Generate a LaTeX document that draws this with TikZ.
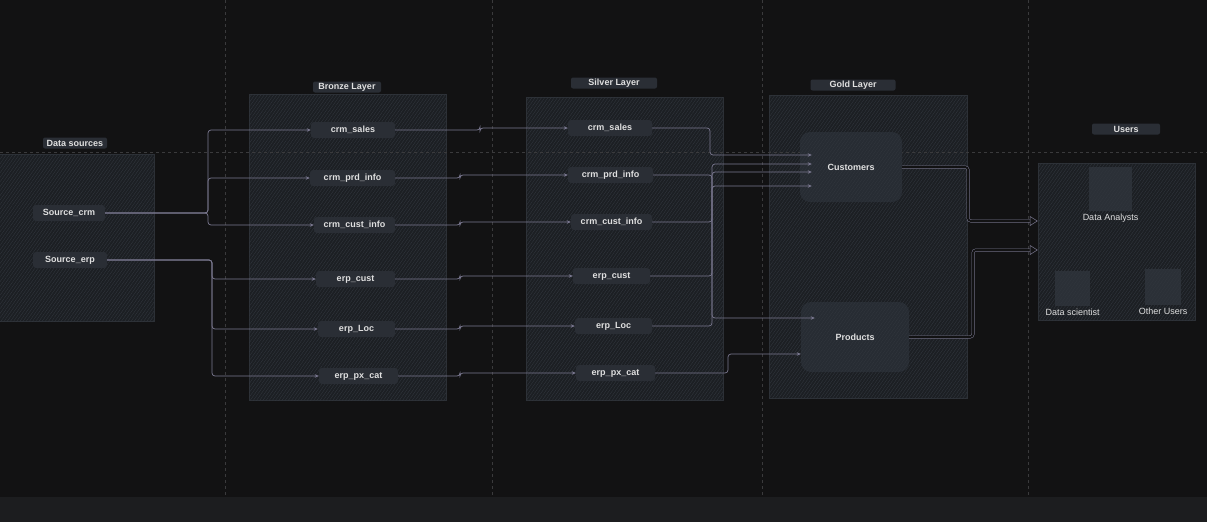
\documentclass[tikz,border=0pt]{standalone}
\usepackage{fontspec}
\setmainfont{Liberation Sans}
\usetikzlibrary{arrows.meta,patterns.meta,positioning}

\definecolor{bg}{HTML}{121213}
\definecolor{strip}{HTML}{1C1D1F}
\definecolor{contbg}{HTML}{1C1F23}
\definecolor{contln}{HTML}{2C3036}
\definecolor{hatch}{HTML}{31363D}
\definecolor{nodebg}{HTML}{2A2E35}
\definecolor{goldbg}{HTML}{272C33}
\definecolor{icobg}{HTML}{2B3037}
\definecolor{txt}{HTML}{E0E0E0}
\definecolor{wirec}{HTML}{7A7890}
\definecolor{gridc}{HTML}{3A3A3C}

\tikzset{
    hatched/.style={postaction={pattern={Lines[angle=55,distance=2.6pt,line width=.4pt]},pattern color=hatch}},
    layer/.style={draw=contln,line width=.5pt,fill=contbg,hatched,inner sep=0pt},
    tbl/.style={fill=nodebg,rounded corners=3pt,text=txt,font=\fontsize{9}{10}\selectfont\bfseries,minimum height=16pt,inner sep=1pt},
    ttl/.style={fill=nodebg,rounded corners=2pt,text=txt,font=\fontsize{9}{10}\selectfont\bfseries,minimum height=11pt,inner sep=1pt},
    gld/.style={fill=goldbg,rounded corners=10pt,text=txt,font=\fontsize{9}{10}\selectfont\bfseries,minimum height=70pt,hatched},
    ico/.style={fill=icobg,inner sep=0pt,hatched},
    usr/.style={text=txt,font=\fontsize{9}{10}\selectfont,inner sep=1pt},
    wire/.style={draw=wirec,line width=.7pt,rounded corners=3pt,-{Stealth[length=4pt,width=3.5pt]}},
    pipe/.style={draw=wirec,double=bg,double distance=2pt,line width=.5pt,rounded corners=3pt,-{Triangle[open,length=8pt,width=10pt]}},
    gridln/.style={draw=gridc,line width=.5pt,dash pattern=on 3pt off 3pt}
}

\begin{document}
\begin{tikzpicture}[x=1pt,y=-1pt]
    \useasboundingbox (0,0) rectangle (1207,522);
    \fill[bg] (0,0) rectangle (1207,522);
    \fill[strip] (0,497) rectangle (1207,522);

    % layers
    \node[layer,minimum width=156pt,minimum height=167pt] (lsrc) at (76,237.5) {};
    \node[layer,minimum width=197pt,minimum height=306pt] (lbronze) at (347.5,247) {};
    \node[layer,minimum width=197pt,minimum height=303pt] (lsilver) at (624.5,248.5) {};
    \node[layer,minimum width=198pt,minimum height=303pt] (lgold) at (868,246.5) {};
    \node[layer,minimum width=157pt,minimum height=157pt] (lusers) at (1116.5,241.5) {};

    \foreach \gx in {225,492,762,1028}
        \draw[gridln] (\gx,0) -- (\gx,497);
    \draw[gridln] (0,152) -- (1207,152);

    % titles
    \node[ttl,minimum width=64pt] (tsrc) at (75,143) {Data sources};
    \node[ttl,minimum width=68pt] (tbronze) at (347,87) {Bronze Layer};
    \node[ttl,minimum width=86pt] (tsilver) at (614,83) {Silver Layer};
    \node[ttl,minimum width=85pt] (tgold) at (853,85) {Gold Layer};
    \node[ttl,minimum width=68pt] (tusers) at (1126,129) {Users};

    % sources
    \node[tbl,minimum width=72pt] (srccrm) at (69,213) {Source\_crm};
    \node[tbl,minimum width=74pt] (srcerp) at (70,260) {Source\_erp};

    % bronze
    \path
        (353,130)   node[tbl,minimum width=84pt] (bsales){crm\_sales}
        (352.5,178) node[tbl,minimum width=85pt] (bprd){crm\_prd\_info}
        (354.5,225) node[tbl,minimum width=81pt] (bcust){crm\_cust\_info}
        (355.5,279) node[tbl,minimum width=79pt] (becust){erp\_cust}
        (356.5,329) node[tbl,minimum width=77pt] (bloc){erp\_Loc}
        (358.5,376) node[tbl,minimum width=79pt] (bpx){erp\_px\_cat}
        ;

    % silver
    \path
        (610,128)   node[tbl,minimum width=84pt] (ssales){crm\_sales}
        (610.5,175) node[tbl,minimum width=85pt] (sprd){crm\_prd\_info}
        (611.5,222) node[tbl,minimum width=81pt] (scust){crm\_cust\_info}
        (611.5,276) node[tbl,minimum width=77pt] (secust){erp\_cust}
        (613.5,326) node[tbl,minimum width=77pt] (sloc){erp\_Loc}
        (615.5,373) node[tbl,minimum width=79pt] (spx){erp\_px\_cat}
        ;

    % gold
    \node[gld,minimum width=102pt] (cust) at (851,167) {Customers};
    \node[gld,minimum width=108pt] (prod) at (855,337) {Products};

    % users
    \node[ico,minimum width=43pt,minimum height=44pt] (ana) at (1110.5,189) {};
    \node[usr,below=2pt of ana] (anat) {Data Analysts};
    \node[ico,minimum size=35pt] (sci) at (1072.5,288) {};
    \node[usr,below=2pt of sci] (scit) {Data scientist};
    \node[ico,minimum size=36pt] (oth) at (1163,286.5) {};
    \node[usr,below=2pt of oth] (otht) {Other Users};

    % bus lines
    \coordinate (bxa) at (208,0);
    \coordinate (bxb) at (212,0);
    \coordinate (jxa) at (480,0);
    \coordinate (jxb) at (460,0);
    \coordinate (gxa) at (710,0);
    \coordinate (gxb) at (712,0);
    \coordinate (gxc) at (728,0);
    \coordinate (uxa) at (968,0);
    \coordinate (uxb) at (973,0);
    \coordinate (c1) at ([shift={(12pt,12pt)}]cust.west);
    \coordinate (c2) at ([shift={(12pt,3pt)}]cust.west);
    \coordinate (c3) at ([shift={(12pt,-5pt)}]cust.west);
    \coordinate (c4) at ([shift={(12pt,-19pt)}]cust.west);
    \coordinate (p1) at ([shift={(14pt,19pt)}]prod.west);
    \coordinate (p2) at ([yshift=-17pt]prod.west);
    \coordinate (u1) at ([yshift=20.5pt]lusers.west);
    \coordinate (u2) at ([yshift=-8.5pt]lusers.west);

    % sources to bronze
    \draw[wire] (srccrm.east) -| (bxa |- bsales) -- (bsales.west);
    \draw[wire] (srccrm.east) -| (bxa |- bprd) -- (bprd.west);
    \draw[wire] (srccrm.east) -| (bxa |- bcust) -- (bcust.west);
    \draw[wire] (srcerp.east) -| (bxb |- becust) -- (becust.west);
    \draw[wire] (srcerp.east) -| (bxb |- bloc) -- (bloc.west);
    \draw[wire] (srcerp.east) -| (bxb |- bpx) -- (bpx.west);

    % bronze to silver
    \draw[wire] (bsales.east) -| (jxa |- ssales) -- (ssales.west);
    \draw[wire] (bprd.east) -| (jxb |- sprd) -- (sprd.west);
    \draw[wire] (bcust.east) -| (jxb |- scust) -- (scust.west);
    \draw[wire] (becust.east) -| (jxb |- secust) -- (secust.west);
    \draw[wire] (bloc.east) -| (jxb |- sloc) -- (sloc.west);
    \draw[wire] (bpx.east) -| (jxb |- spx) -- (spx.west);

    % silver to gold
    \draw[wire] (ssales.east) -| (gxa |- c1) -- (c1);
    \draw[wire] (scust.east) -| (gxb |- c2) -- (c2);
    \draw[wire] (secust.east) -| (gxb |- c3) -- (c3);
    \draw[wire] (sloc.east) -| (gxb |- c4) -- (c4);
    \draw[wire] (sprd.east) -| (gxb |- p1) -- (p1);
    \draw[wire] (spx.east) -| (gxc |- p2) -- (p2);

    % gold to users
    \draw[pipe] (cust.east) -| (uxa |- u1) -- (u1);
    \draw[pipe] (prod.east) -| (uxb |- u2) -- (u2);
\end{tikzpicture}
\end{document}
